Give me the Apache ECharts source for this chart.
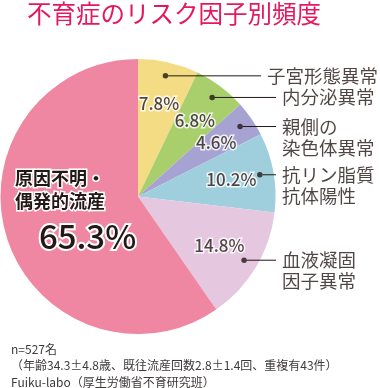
<!DOCTYPE html>
<html><head><meta charset="utf-8">
<script src="https://cdn.jsdelivr.net/npm/echarts@6/dist/echarts.min.js"></script>
<style>html,body{margin:0;padding:0;background:#fff}#c{width:380px;height:388px}</style>
</head><body><div id="c"></div>
<script>
// ---- data ----
const titleText = '不育症のリスク因子別頻度';
const categories = ['子宮形態異常', '内分泌異常', '親側の\n染色体異常', '抗リン脂質\n抗体陽性', '血液凝固\n因子異常', '原因不明・\n偶発的流産'];
const percentages = [7.8, 6.8, 4.6, 10.2, 14.8, 65.3];
const sliceColors = ['#f4dc84', '#a8cf6c', '#a6a3d3', '#9fcfdd', '#e5c7e0', '#ef87a2'];
const labelPlacement = ['outside', 'outside', 'outside', 'outside', 'outside', 'inside'];
const footnoteLines = ['n=527名', '（年齢34.3±4.8歳、既往流産回数2.8±1.4回、重複有43件）', 'Fuiku-labo（厚生労働省不育研究班）'];

// ---- layout / style ----
const CENTER = [138, 196.5];
const R = 137.5;
const W = 380;
const FONT = '"Noto Sans CJK JP","Noto Sans",sans-serif';
const INK = '#231815';
const LABEL_LEFT = 276;

const total = percentages.reduce((a, b) => a + b, 0);
const mids = [];
let acc = 0;
percentages.forEach(v => { mids.push(acc + v / 2); acc += v; });
const outerIdx = labelPlacement.map((p, i) => p === 'outside' ? i : -1).filter(i => i >= 0);
const pct = v => v.toFixed(1) + '%';

const chart = echarts.init(document.getElementById('c'), null, { renderer: 'canvas' });
chart.setOption({
  animation: false,
  title: [
    { text: titleText, left: 27, top: 0, padding: 0,
      textStyle: { fontSize: 24.5, fontWeight: 'normal', color: '#e5175f', fontFamily: FONT, lineHeight: 28 } },
    { text: footnoteLines.join('\n'), left: 11, top: 341, padding: 0,
      textStyle: { fontSize: 12, fontWeight: 'normal', color: '#3e3a39', lineHeight: 16.5, fontFamily: FONT } }
  ],
  polar: { center: CENTER, radius: R },
  angleAxis: { type: 'value', min: 0, max: total, startAngle: 90, clockwise: true, show: false },
  radiusAxis: { type: 'value', min: 0, max: 1, show: false },
  series: [
    {
      type: 'pie', center: CENTER, radius: R, startAngle: 90, clockwise: true, silent: true,
      avoidLabelOverlap: false, labelLine: { show: false },
      itemStyle: { borderWidth: 0 },
      data: percentages.map((v, i) => ({
        value: v, name: categories[i], itemStyle: { color: sliceColors[i] },
        label: labelPlacement[i] === 'inside' ? {
          show: true, position: 'inside', offset: [6, -4],
          formatter: p => p.name.split('\n').map(s => '{n|' + s + '}').join('\n') + '\n{p|' + pct(p.value) + '}',
          rich: {
            n: { fontSize: 18, fontWeight: 'bold', lineHeight: 23, color: INK, fontFamily: FONT, align: 'left',
                 textBorderColor: '#fff', textBorderWidth: 3 },
            p: { fontSize: 33, fontWeight: 500, lineHeight: 48, color: INK, fontFamily: FONT, align: 'left', padding: [0, 0, 0, 24],
                 textBorderColor: '#fff', textBorderWidth: 4 }
          }
        } : { show: false }
      }))
    },
    {
      type: 'scatter', coordinateSystem: 'polar', silent: true, symbolSize: 1,
      itemStyle: { color: 'rgba(0,0,0,0)' },
      data: outerIdx.map(i => ({ value: [0.69, mids[i]], name: pct(percentages[i]) })),
      label: { show: true, position: 'inside', formatter: p => p.name, color: INK, fontSize: 17, fontWeight: 500,
               fontFamily: FONT, textBorderColor: '#fff', textBorderWidth: 3 }
    },
    {
      type: 'scatter', coordinateSystem: 'polar', silent: true, symbol: 'circle', symbolSize: 5.5,
      itemStyle: { color: INK },
      data: outerIdx.map(i => ({ value: [0.9, mids[i]], name: categories[i] })),
      label: {
        show: true, position: 'right',
        formatter: p => (p.name.indexOf('\n') >= 0 ? '\n' : '') + p.name,
        color: INK, fontSize: 18.5, lineHeight: 21, fontFamily: FONT,
        padding: [0, 0, 0, 6], backgroundColor: 'rgba(255,255,255,0)'
      },
      labelLine: { show: true, length2: 0, lineStyle: { color: INK, width: 1 } },
      labelLayout: p => {
        const w = p.labelRect.width;
        return { x: Math.min(LABEL_LEFT, W - 2 - w), y: p.rect.y + p.rect.height / 2, align: 'left', verticalAlign: 'middle' };
      }
    }
  ]
});
</script></body></html>
